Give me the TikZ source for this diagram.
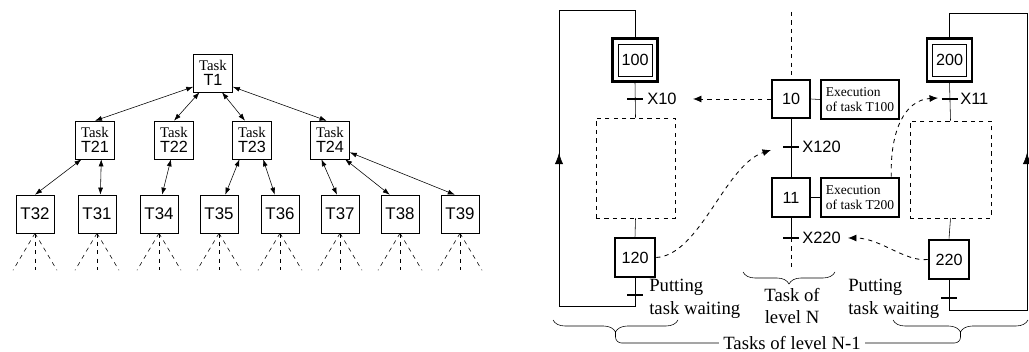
\documentclass[tikz,border=0pt]{standalone}
\usepackage{fontspec}
\setmainfont{Liberation Serif}
\setsansfont{Liberation Sans}
\usetikzlibrary{arrows.meta,decorations.pathreplacing}

\begin{document}
\begin{tikzpicture}[x=0.025cm,y=-0.025cm,
	task/.style={draw, thin, minimum width=0.975cm, minimum height=0.95cm, inner sep=0pt, align=center, font=\fontsize{10.5}{11}\selectfont},
	leaf/.style={draw, thin, minimum width=0.95cm, minimum height=0.95cm, inner sep=0pt, font=\sffamily\fontsize{12}{14}\selectfont},
	link/.style={{Latex[length=5pt,width=3.5pt]}-{Latex[length=5pt,width=3.5pt]}, thin},
	fan/.style={dashed, thin},
	stepbox/.style={draw, line width=1.8pt, minimum width=1cm, minimum height=0.975cm, inner sep=0pt, font=\sffamily\fontsize{11.5}{13}\selectfont},
	initbox/.style={draw, line width=1.8pt, minimum width=1.125cm, minimum height=1.075cm, inner sep=0pt},
	innerbox/.style={draw, thin, minimum width=0.85cm, minimum height=0.8cm, inner sep=0pt, font=\sffamily\fontsize{11.5}{13}\selectfont},
	actbox/.style={draw, line width=1.8pt, minimum width=1.95cm, minimum height=0.975cm, inner sep=1pt, align=left, font=\fontsize{9.6}{10.5}\selectfont},
	macrobox/.style={draw, dashed, thin},
	bar/.style={line width=2pt},
	trlabel/.style={anchor=west, inner sep=0pt, font=\sffamily\fontsize{11.7}{13}\selectfont},
	note/.style={inner sep=0pt, font=\fontsize{13.3}{16}\selectfont},
	order/.style={dashed, semithick, -{Latex[length=6pt,width=5pt]}},
	looparrow/.style={-{Latex[length=8pt,width=6pt]}},
	curly/.style={decorate, decoration={brace, mirror, amplitude=0.3cm}}
]
	\useasboundingbox (0,0) rectangle (1029,352);

	% Tree of tasks
	\node[task] (T1) at (213,73) {Task\\{\sffamily\fontsize{11.5}{12}\selectfont T1}};
	\foreach \n/\x in {T21/95, T22/174, T23/252, T24/330} {
		\node[task] (\n) at (\x,140) {Task\\{\sffamily\fontsize{11.5}{12}\selectfont \n}};
	}
	\foreach \n/\x in {T32/35, T31/97, T34/159, T35/219, T36/280, T37/340, T38/400, T39/460} {
		\node[leaf] (\n) at (\x,214) {\n};
		\draw[fan] (\n.south) -- ++(-22,37);
		\draw[fan] (\n.south) -- ++(0,37);
		\draw[fan] (\n.south) -- ++(22,37);
	}
	\draw[link] (T1.215) -- (T21.north);
	\draw[link] (T1.235) -- (T22.north);
	\draw[link] (T1.295) -- (T23.110);
	\draw[link] (T1.325) -- (T24.100);
	\draw[link] (T21.235) -- (T32.north);
	\draw[link] (T21.288) -- (T31.80);
	\draw[link] (T22.261) -- (T34.81);
	\draw[link] (T23.237) -- (T35.72);
	\draw[link] (T23.300) -- (T36.105);
	\draw[link] (T24.246) -- (T37.99);
	\draw[link] (T24.308) -- (T38.118);
	\draw[link] (T24.328) -- (T39.105);

	% Level N-1, left
	\node[initbox] (S100) at (635,60) {};
	\node[innerbox] (I100) at (S100) {100};
	\node[macrobox, minimum width=1.975cm, minimum height=2.5cm] (M1) at (635.5,168) {};
	\node[stepbox] (S120) at (635,257.5) {120};
	\coordinate (tb10) at (635,99);
	\coordinate (tbw1) at (635,295);
	\coordinate (lbot) at (559,306);
	\coordinate (ltop) at (559,10);
	\coordinate (lmid) at (559,153);
	\node[trlabel] (X10) at (647,99) {X10};
	\draw (S100.south) -- (M1.north);
	\draw (M1.south) -- (S120.north);
	\draw (S120.south) |- (lbot) -- (ltop) -| (S100.north);
	\draw[looparrow] (lbot) -- (lmid);
	\draw[bar] ([xshift=-0.2cm]tb10) -- ([xshift=0.2cm]tb10);
	\draw[bar] ([xshift=-0.2cm]tbw1) -- ([xshift=0.2cm]tbw1);
	\node[note, align=left, anchor=west] (wait1) at (649,299) {Putting\\task waiting};

	% Level N-1, right
	\node[initbox] (S200) at (949.5,60) {};
	\node[innerbox] (I200) at (S200) {200};
	\node[macrobox, minimum width=2.025cm, minimum height=2.425cm] (M2) at (950.5,169.5) {};
	\node[stepbox] (S220) at (949,259.5) {220};
	\coordinate (tb11) at (949.5,99);
	\coordinate (tbw2) at (949,298);
	\coordinate (rbot) at (1027,310);
	\coordinate (rtop) at (1027,13);
	\coordinate (rmid) at (1027,153);
	\node[trlabel] (X11) at (960,99) {X11};
	\draw (S200.south) -- (M2.north);
	\draw (M2.south) -- (S220.north);
	\draw (S220.south) |- (rbot) -- (rtop) -| (S200.north);
	\draw[looparrow] (rbot) -- (rmid);
	\draw[bar] ([xshift=-0.2cm]tb11) -- ([xshift=0.2cm]tb11);
	\draw[bar] ([xshift=-0.2cm]tbw2) -- ([xshift=0.2cm]tbw2);
	\node[note, align=left, anchor=west] (wait2) at (848,299) {Putting\\task waiting};

	% Level N
	\coordinate (mtop) at (791,12);
	\node[stepbox, minimum width=0.95cm, minimum height=0.95cm] (S10) at (791,99) {10};
	\node[actbox] (A10) at (860,99.5) {Execution\\of task T100};
	\node[stepbox, minimum width=0.95cm] (S11) at (791,197.5) {11};
	\node[actbox] (A11) at (860,197.5) {Execution\\of task T200};
	\coordinate (tb120) at (791,147);
	\coordinate (tb220) at (791,238);
	\coordinate (mbot) at (791,267);
	\node[trlabel] (X120) at (802,147) {X120};
	\node[trlabel] (X220) at (802,238) {X220};
	\draw[dashed] (mtop) -- (S10.north);
	\draw (S10.south) -- (S11.north);
	\draw (S11.south) -- (tb220);
	\draw[dashed] (tb220) -- (mbot);
	\draw (S10.east) -- (A10.west);
	\draw (S11.east) -- (A11.west);
	\draw[bar] ([xshift=-0.2cm]tb120) -- ([xshift=0.2cm]tb120);
	\draw[bar] ([xshift=-0.2cm]tb220) -- ([xshift=0.2cm]tb220);

	% Orders between levels
	\coordinate (p10) at (693,99);
	\coordinate (p120) at (771,150);
	\coordinate (p11) at (938,98);
	\coordinate (p220) at (848,238);
	\draw[order] (S10.west) -- (p10);
	\draw[order] (S120.east) .. controls (700,255) and (725,165) .. (p120);
	\draw[order] ([xshift=-0.225cm]A11.north east) .. controls (890,130) and (905,100) .. (p11);
	\draw[order] (S220.west) .. controls (905,262) and (880,238) .. (p220);

	% Braces
	\draw[curly] (553,320) -- (678,320);
	\draw[curly] (743,272) -- (835,272);
	\draw[curly] (893,320) -- (1028,320);
	\node[note, align=center] (lvN) at (792,306) {Task of\\level N};
	\node[note, inner xsep=3pt] (lvN1) at (792,343) {Tasks of level N-1};
	\draw[rounded corners=0.15cm] (615.5,332) |- (lvN1.west);
	\draw[rounded corners=0.15cm] (960.5,332) |- (lvN1.east);
\end{tikzpicture}
\end{document}
